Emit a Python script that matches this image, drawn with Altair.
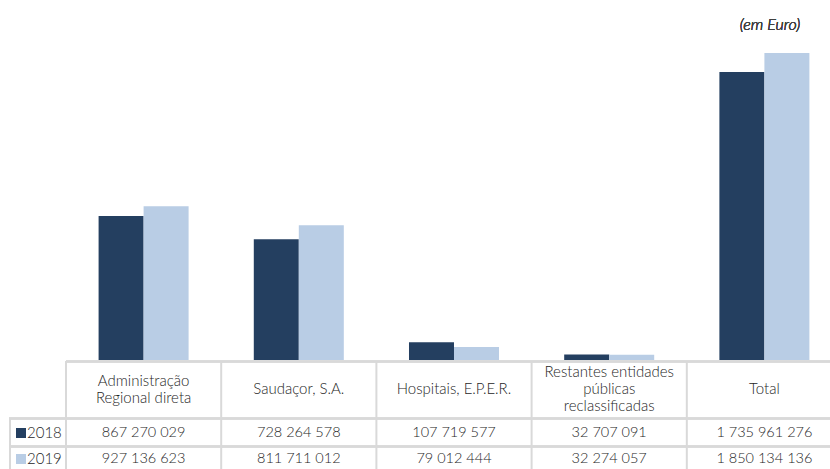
import altair as alt
import pandas as pd

# Entities and yearly amounts (euros)
categories = [
    "Administração\nRegional direta",
    "Saudaçor, S.A.",
    "Hospitais, E.P.E.R.",
    "Restantes entidades\npúblicas\nreclassificadas",
    "Total",
]
years = ["2018", "2019"]
values_2018 = [867270029, 728264578, 107719577, 32707091, 1735961276]
values_2019 = [927136623, 811711012, 79012444, 32274057, 1850134136]
unit_note = "(em Euro)"

colors = ["#243f60", "#b9cde5"]
text_color = "#262626"
grid_color = "#d9d9d9"
font = "Lato"
weight = 300
line_h = 17


def fmt(v):
    return f"{v:,}".replace(",", " ")


rows = []
for cat, a, b in zip(categories, values_2018, values_2019):
    rows.append({"cat": cat, "year": "2018", "value": a, "label": fmt(a)})
    rows.append({"cat": cat, "year": "2019", "value": b, "label": fmt(b)})
df = pd.DataFrame(rows)
cats_df = pd.DataFrame({"cat": categories, "nlines": [c.count("\n") + 1 for c in categories]})
years_df = pd.DataFrame({"year": years})

x_scale = alt.Scale(domain=categories, range=[0, 776], paddingInner=0, paddingOuter=0)
x_enc = alt.X("cat:N", scale=x_scale, sort=categories, axis=None)
color_enc = alt.Color("year:N", scale=alt.Scale(domain=years, range=colors), legend=None)

bars = alt.Chart(df).mark_bar(size=45).encode(
    x=x_enc,
    xOffset=alt.XOffset("year:N", scale=alt.Scale(domain=years, paddingInner=0, paddingOuter=0.724)),
    y=alt.Y("value:Q", scale=alt.Scale(domain=[0, 2170000000], nice=False), axis=None),
    color=color_enc,
)

# Table grid
rule_style = dict(color=grid_color, strokeWidth=2)
vlines = alt.Chart(cats_df).mark_rule(**rule_style).encode(
    x=alt.X("cat:N", scale=x_scale, sort=categories, axis=None, bandPosition=0),
    y=alt.value(361),
    y2=alt.value(480),
)
top_line = alt.Chart(cats_df).mark_rule(**rule_style).encode(
    x=alt.value(0), x2=alt.value(776), y=alt.value(361.5)
)
row_line1 = alt.Chart(cats_df).mark_rule(**rule_style).encode(
    x=alt.value(-57), x2=alt.value(776), y=alt.value(418.5)
)
row_line2 = alt.Chart(cats_df).mark_rule(**rule_style).encode(
    x=alt.value(-57), x2=alt.value(776), y=alt.value(446.5)
)
left_line = alt.Chart(cats_df).mark_rule(**rule_style).encode(
    x=alt.value(-56), y=alt.value(418), y2=alt.value(480)
)

# Header cells: wrapped labels centred vertically in the header row
header_layers = []
for n in sorted(set(cats_df.nlines)):
    header_layers.append(
        alt.Chart(cats_df).transform_filter(alt.datum.nlines == n).mark_text(
            font=font, fontSize=15, fontWeight=weight, color=text_color, lineBreak="\n",
            lineHeight=line_h, baseline="middle",
        ).encode(
            x=alt.X("cat:N", scale=x_scale, sort=categories, axis=None),
            y=alt.value(389 - (n - 1) * line_h / 2),
            text="cat:N",
        )
    )

row_y = {"2018": 433, "2019": 459}
number_layers = []
legend_layers = []
for yr in years:
    number_layers.append(
        alt.Chart(df).transform_filter(alt.datum.year == yr).mark_text(
            font=font, fontSize=14.5, fontWeight=weight, color=text_color, baseline="middle"
        ).encode(
            x=alt.X("cat:N", scale=x_scale, sort=categories, axis=None),
            y=alt.value(row_y[yr]),
            text="label:N",
        )
    )
    ydf = years_df[years_df.year == yr]
    legend_layers.append(
        alt.Chart(ydf).mark_point(shape="square", filled=True, size=100, opacity=1).encode(
            x=alt.value(-45), y=alt.value(row_y[yr]), color=color_enc
        )
    )
    legend_layers.append(
        alt.Chart(ydf).mark_text(
            font=font, fontSize=15, fontWeight=weight, color=text_color,
            align="left", baseline="middle",
        ).encode(x=alt.value(-39), y=alt.value(row_y[yr]), text="year:N")
    )

note = alt.Chart(cats_df).mark_text(
    text=unit_note, font=font, fontSize=16, fontStyle="italic", fontWeight=weight,
    color="#404040", baseline="middle",
).encode(x=alt.value(704), y=alt.value(25))

chart = alt.layer(
    bars, vlines, top_line, row_line1, row_line2, left_line,
    *header_layers, *number_layers, *legend_layers, note,
).properties(
    width=764,
    height=360,
    autosize="none",
    padding={"left": 66, "top": 0, "right": 0, "bottom": 109},
    background="white",
).configure_view(strokeWidth=0)

chart.save("out.html", embed_options={"renderer": "svg", "actions": False})
